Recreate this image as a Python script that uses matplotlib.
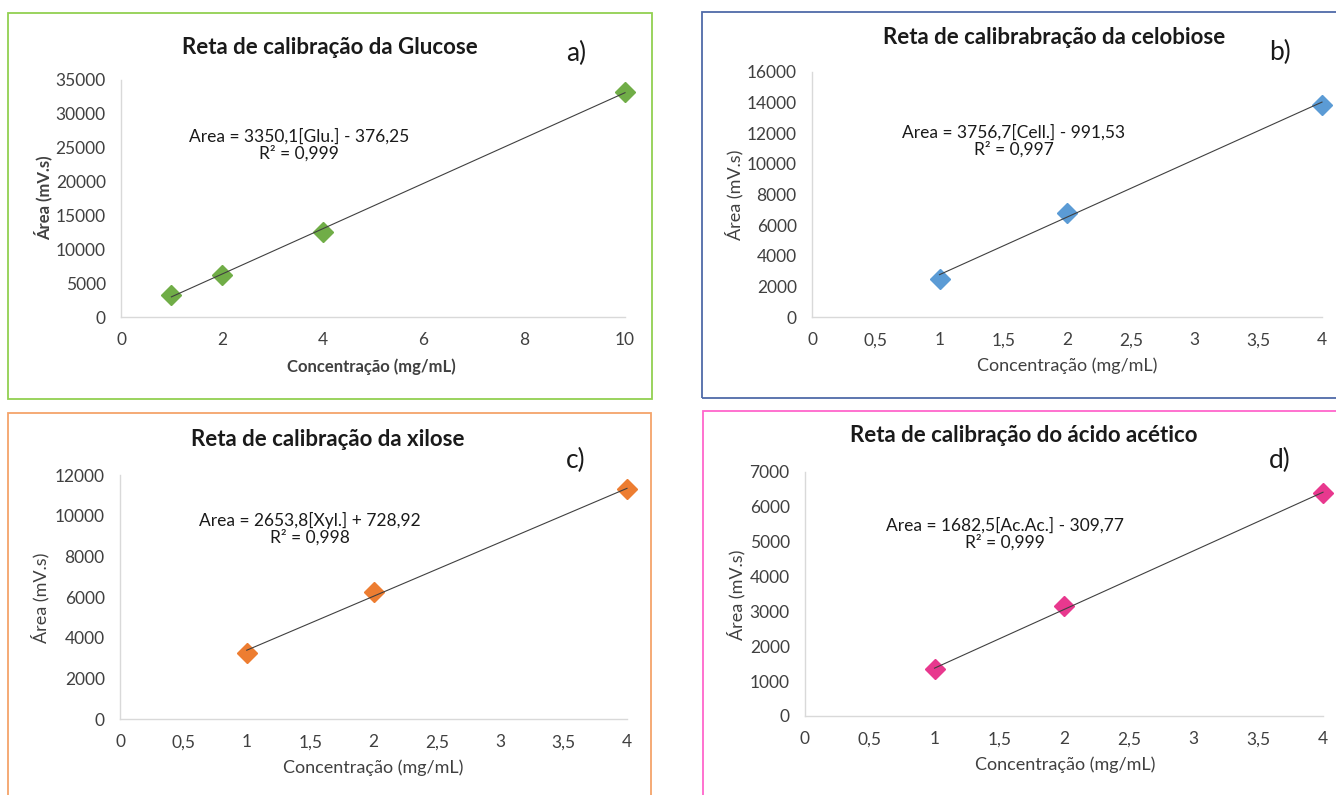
import matplotlib
matplotlib.use("Agg")
import matplotlib.pyplot as plt
from matplotlib.patches import Rectangle
import numpy as np

plt.rcParams['font.family'] = ['Lato', 'DejaVu Sans']

# dados
conc_glu = [1, 2, 4, 10]
area_glu = [3250, 6250, 12500, 33300]
conc_cel = [1, 2, 4]
area_cel = [2480, 6810, 13860]
conc_xyl = [1, 2, 4]
area_xyl = [3250, 6260, 11300]
conc_ac = [1, 2, 4]
area_ac = [1340, 3150, 6400]

slopes = [3350.1, 3756.7, 2653.8, 1682.5]
intercepts = [-376.25, -991.53, 728.92, -309.77]
r2 = ['0,999', '0,997', '0,998', '0,999']

titles = ['Reta de calibração da Glucose', 'Reta de calibrabração da celobiose',
          'Reta de calibração da xilose', 'Reta de calibração do ácido acético']
equations = ['Area = 3350,1[Glu.] - 376,25', 'Area = 3756,7[Cell.] - 991,53',
             'Area = 2653,8[Xyl.] + 728,92', 'Area = 1682,5[Ac.Ac.] - 309,77']
letters = ['a)', 'b)', 'c)', 'd)']
colors = ['#70AD47', '#5B9BD5', '#ED7D31', '#E8388E']
border_colors = ['#92D050', '#4F6AA8', '#F4A46A', '#FF66CC']

W, H = 1336, 795
fig = plt.figure(figsize=(W / 100, H / 100), dpi=100)

def fx(px):
    return px / W

def fy(py):
    return 1 - py / H

# bordas dos paineis (px)
borders = [(8, 13, 652, 399), (702, 12, 1345, 398), (8, 413, 651, 805), (703, 411, 1345, 805)]
for (x0, y0, x1, y1), c in zip(borders, border_colors):
    fig.patches.append(Rectangle((fx(x0), fy(y1)), fx(x1) - fx(x0), fy(y0) - fy(y1),
                                 transform=fig.transFigure, fill=False, edgecolor=c,
                                 linewidth=1.3, zorder=0))

# left, right, top, bottom (px)
boxes = [(121, 625, 80, 317), (812, 1322, 72, 317), (120, 627, 475, 719), (805, 1323, 472, 716)]
xmax = [10, 4, 4, 4]
xstep = [2, 0.5, 0.5, 0.5]
ymax = [35000, 16000, 12000, 7000]
ystep = [5000, 2000, 2000, 1000]
data = [(conc_glu, area_glu), (conc_cel, area_cel), (conc_xyl, area_xyl), (conc_ac, area_ac)]

title_pos = [(330, 47), (1054, 37), (328, 439), (1024, 436)]
letter_pos = [(576, 53), (1280, 52), (576, 460), (1280, 460)]
eq_pos = [(299, 145), (1014, 141), (310, 529), (1005, 534)]
ylab_pos = [(43, 198), (734, 195), (40, 598), (736, 595)]
xlab_pos = [(371, 367), (1067, 366), (373, 768), (1065, 765)]

for i in range(4):
    l, r, t, b = boxes[i]
    ax = fig.add_axes([fx(l), fy(b), fx(r) - fx(l), fy(t) - fy(b)])
    x, y = data[i]
    ax.plot(x, y, 'D', color=colors[i], markersize=10.5, clip_on=False, zorder=3)
    xl = np.array([min(x), max(x)])
    ax.plot(xl, slopes[i] * xl + intercepts[i], color='#404040', linewidth=0.8,
            clip_on=False, zorder=4)

    ax.set_xlim(0, xmax[i])
    ax.set_ylim(0, ymax[i])
    xt = np.arange(0, xmax[i] + 0.001, xstep[i])
    ax.set_xticks(xt)
    ax.set_xticklabels([('%g' % v).replace('.', ',') for v in xt])
    ax.set_yticks(np.arange(0, ymax[i] + 1, ystep[i]))
    ax.tick_params(length=0, labelsize=12.5, labelcolor='#404040', pad=11)
    for s in ['top', 'right']:
        ax.spines[s].set_visible(False)
    for s in ['left', 'bottom']:
        ax.spines[s].set_color('#D9D9D9')
        ax.spines[s].set_linewidth(1)
    ax.patch.set_alpha(0)

    fig.text(fx(title_pos[i][0]), fy(title_pos[i][1]), titles[i], ha='center', va='center',
             fontsize=16, fontweight='bold', color='#1a1a1a')
    fig.text(fx(letter_pos[i][0]), fy(letter_pos[i][1]), letters[i], ha='center', va='center',
             fontsize=19, color='#1a1a1a')
    fig.text(fx(eq_pos[i][0]), fy(eq_pos[i][1]), equations[i] + '\nR² = ' + r2[i],
             ha='center', va='center', fontsize=12.5, color='#1a1a1a', linespacing=1.0)
    weight = 'bold' if i == 0 else 'normal'
    size = 12 if i == 0 else 13
    fig.text(fx(ylab_pos[i][0]), fy(ylab_pos[i][1]), 'Área (mV.s)', ha='center', va='center',
             rotation=90, fontsize=size, fontweight=weight, color='#404040')
    fig.text(fx(xlab_pos[i][0]), fy(xlab_pos[i][1]), 'Concentração (mg/mL)', ha='center',
             va='center', fontsize=size, fontweight=weight, color='#404040')

fig.savefig('out.png', dpi=100)
